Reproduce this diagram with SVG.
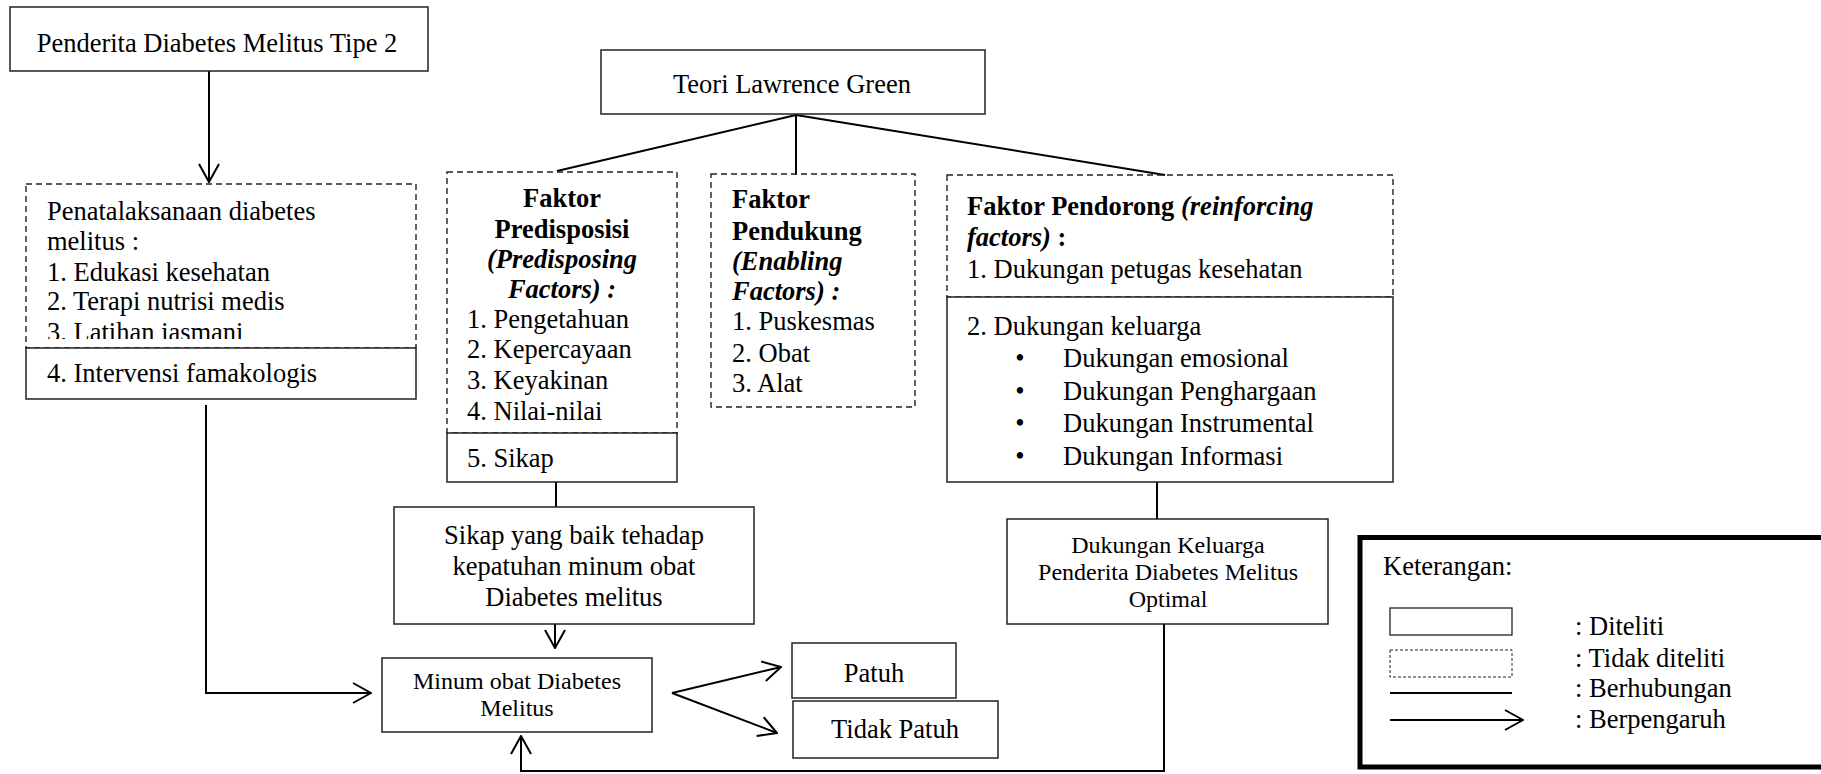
<svg xmlns="http://www.w3.org/2000/svg" width="1821" height="774" viewBox="0 0 1821 774">
<style>
text{font-family:"Liberation Serif","Times New Roman",serif;font-size:26.5px;fill:#000}
.sm{font-size:24px}
.c{text-anchor:middle}
.b{font-weight:bold}
.bi{font-weight:bold;font-style:italic}
.box{fill:#fff;stroke:#222;stroke-width:1.5}
.dbox{fill:none;stroke:#222;stroke-width:1.4;stroke-dasharray:6 4}
.ln{fill:none;stroke:#000;stroke-width:2}
.arr{fill:none;stroke:#000;stroke-width:2;marker-end:url(#ah)}
</style>
<defs>
<marker id="ah" viewBox="0 0 20 22" refX="19" refY="11" markerWidth="20" markerHeight="22" markerUnits="userSpaceOnUse" orient="auto">
<path d="M1,1 L19,11 L1,21" fill="none" stroke="#000" stroke-width="2"/>
</marker>
<clipPath id="clipL"><rect x="26" y="184" width="390" height="155"/></clipPath>
</defs>
<rect width="1821" height="774" fill="#fff"/>

<g id="connectors">
<line class="arr" x1="209" y1="71" x2="209" y2="182"/>
<line class="ln" x1="796" y1="115" x2="557" y2="171"/>
<line class="ln" x1="796" y1="115" x2="796" y2="175"/>
<line class="ln" x1="796" y1="115" x2="1165" y2="175"/>
<path class="arr" d="M206,405 V693 H371"/>
<line class="ln" x1="556" y1="482" x2="556" y2="507"/>
<line class="arr" x1="555" y1="624" x2="555" y2="648"/>
<line class="arr" x1="672" y1="693" x2="781" y2="667"/>
<line class="arr" x1="672" y1="693" x2="777" y2="733"/>
<line class="ln" x1="1157" y1="482" x2="1157" y2="519"/>
<path class="arr" d="M1164,624 V771 H521 V736"/>
</g>

<g id="penderita">
<rect class="box" x="10" y="7" width="418" height="64"/>
<text class="c" x="217" y="52">Penderita Diabetes Melitus Tipe 2</text>
</g>

<g id="penatalaksanaan">
<rect class="dbox" x="26" y="184" width="390" height="164"/>
<text x="47" y="220">Penatalaksanaan diabetes</text>
<text x="47" y="250">melitus :</text>
<text x="47" y="281">1. Edukasi kesehatan</text>
<text x="47" y="310">2. Terapi nutrisi medis</text>
<text x="47" y="341" clip-path="url(#clipL)">3. Latihan jasmani</text>
<rect class="box" x="26" y="348" width="390" height="51"/>
<text x="47" y="382">4. Intervensi famakologis</text>
</g>

<g id="teori">
<rect class="box" x="601" y="50" width="384" height="64"/>
<text class="c" x="792" y="93">Teori Lawrence Green</text>
</g>

<g id="predisposisi">
<rect class="dbox" x="447" y="172" width="230" height="261"/>
<text class="c b" x="562" y="207">Faktor</text>
<text class="c b" x="562" y="238">Predisposisi</text>
<text class="c bi" x="562" y="268">(Predisposing</text>
<text class="c bi" x="562" y="298">Factors) :</text>
<text x="467" y="328">1. Pengetahuan</text>
<text x="467" y="358">2. Kepercayaan</text>
<text x="467" y="389">3. Keyakinan</text>
<text x="467" y="420">4. Nilai-nilai</text>
<rect class="box" x="447" y="433" width="230" height="49"/>
<text x="467" y="467">5. Sikap</text>
</g>

<g id="pendukung">
<rect class="dbox" x="711" y="174" width="204" height="233"/>
<text class="b" x="732" y="208">Faktor</text>
<text class="b" x="732" y="240">Pendukung</text>
<text class="bi" x="732" y="270">(Enabling</text>
<text class="bi" x="732" y="300">Factors) :</text>
<text x="732" y="330">1. Puskesmas</text>
<text x="732" y="362">2. Obat</text>
<text x="732" y="392">3. Alat</text>
</g>

<g id="pendorong">
<rect class="dbox" x="947" y="175" width="446" height="122"/>
<text x="967" y="215"><tspan class="b">Faktor Pendorong </tspan><tspan class="bi">(reinforcing</tspan></text>
<text x="967" y="246"><tspan class="bi">factors)</tspan><tspan class="b"> :</tspan></text>
<text x="967" y="278">1. Dukungan petugas kesehatan</text>
<rect class="box" x="947" y="297" width="446" height="185"/>
<text x="967" y="335">2. Dukungan keluarga</text>
<text class="c" x="1020" y="367">•</text>
<text x="1063" y="367">Dukungan emosional</text>
<text class="c" x="1020" y="400">•</text>
<text x="1063" y="400">Dukungan Penghargaan</text>
<text class="c" x="1020" y="432">•</text>
<text x="1063" y="432">Dukungan Instrumental</text>
<text class="c" x="1020" y="465">•</text>
<text x="1063" y="465">Dukungan Informasi</text>
</g>

<g id="sikap-baik">
<rect class="box" x="394" y="507" width="360" height="117"/>
<text class="c" x="574" y="544">Sikap yang baik tehadap</text>
<text class="c" x="574" y="575">kepatuhan minum obat</text>
<text class="c" x="574" y="606">Diabetes melitus</text>
</g>

<g id="minum">
<rect class="box" x="382" y="658" width="270" height="74"/>
<text class="c sm" x="517" y="689">Minum obat Diabetes</text>
<text class="c sm" x="517" y="716">Melitus</text>
</g>

<g id="patuh">
<rect class="box" x="792" y="643" width="164" height="55"/>
<text class="c" x="874" y="682">Patuh</text>
</g>

<g id="tidak-patuh">
<rect class="box" x="793" y="701" width="205" height="57"/>
<text class="c" x="895" y="738">Tidak Patuh</text>
</g>

<g id="dukungan-keluarga">
<rect class="box" x="1007" y="519" width="321" height="105"/>
<text class="c sm" x="1168" y="553">Dukungan Keluarga</text>
<text class="c sm" x="1168" y="580">Penderita Diabetes Melitus</text>
<text class="c sm" x="1168" y="607">Optimal</text>
</g>

<g id="legend">
<rect x="1360" y="537.5" width="480" height="229.5" fill="#fff" stroke="#000" stroke-width="5"/>
<text x="1383" y="575">Keterangan:</text>
<rect x="1390" y="608" width="122" height="27" fill="none" stroke="#222" stroke-width="1.3"/>
<rect x="1390" y="650" width="122" height="27" fill="none" stroke="#222" stroke-width="1" stroke-dasharray="3 2"/>
<line class="ln" x1="1390" y1="693" x2="1512" y2="693"/>
<line class="arr" x1="1390" y1="720" x2="1523" y2="720"/>
<text x="1575" y="635">: Diteliti</text>
<text x="1575" y="667">: Tidak diteliti</text>
<text x="1575" y="697">: Berhubungan</text>
<text x="1575" y="728">: Berpengaruh</text>
</g>
</svg>
